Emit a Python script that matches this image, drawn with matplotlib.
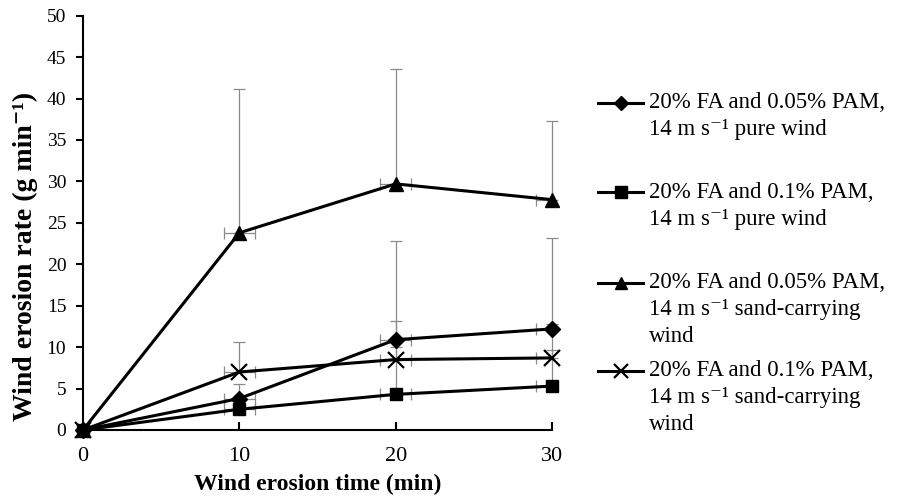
import matplotlib
matplotlib.use("Agg")
from matplotlib import pyplot as plt
from matplotlib.lines import Line2D
import numpy as np

plt.rcParams.update({
    "font.family": ["Liberation Serif", "DejaVu Serif"],
    "font.size": 14,
})

# data
time_min = [0, 10, 20, 30]
x_err = [1, 1, 1, 1]

labels = [
    ["20% FA and 0.05% PAM,", "14 m s\u207b\u00b9 pure wind"],
    ["20% FA and 0.1% PAM,", "14 m s\u207b\u00b9 pure wind"],
    ["20% FA and 0.05% PAM,", "14 m s\u207b\u00b9 sand-carrying", "wind"],
    ["20% FA and 0.1% PAM,", "14 m s\u207b\u00b9 sand-carrying", "wind"],
]
fa_005_pure = [0, 3.8, 10.9, 12.2]
fa_005_pure_err = [0, 1.7, 11.9, 11.0]
fa_01_pure = [0, 2.5, 4.3, 5.3]
fa_01_pure_err = [0, 0.8, 8.8, 7.5]
fa_005_sand = [0, 23.8, 29.7, 27.8]
fa_005_sand_err = [0, 17.3, 13.9, 9.5]
fa_01_sand = [0, 7.0, 8.5, 8.7]
fa_01_sand_err = [0, 3.6, 1.5, 1.0]

series = [fa_005_pure, fa_01_pure, fa_005_sand, fa_01_sand]
errs = [fa_005_pure_err, fa_01_pure_err, fa_005_sand_err, fa_01_sand_err]
markers = ["D", "s", "^", "x"]
msizes = [8, 9, 10, 11]

W, H = 903, 496
fig = plt.figure(figsize=(W / 100, H / 100), dpi=100)
ax = fig.add_axes([83 / W, 1 - 430 / H, (552 - 83) / W, (430 - 15.7) / H])

err_kw = dict(fmt="none", ecolor="#8a8a8a", elinewidth=0.9, capsize=4.5,
              capthick=0.9, zorder=2)
for y, e in zip(series, errs):
    # upper-only y error bars, not clipped
    ax.errorbar(time_min, y, yerr=[np.zeros(len(e)), e], clip_on=False, **err_kw)
    # +-1 min x error bars, clipped to the axes
    ax.errorbar(time_min, y, xerr=x_err, **err_kw)

for y, m, ms in zip(series, markers, msizes):
    ax.plot(time_min, y, color="black", lw=2.2, marker=m, ms=ms,
            mew=1.6 if m == "x" else 1, mfc="black", mec="black",
            clip_on=False, zorder=3)

ax.set_xlim(0, 30)
ax.set_ylim(0, 50)
ax.set_xticks([0, 10, 20, 30])
ax.set_yticks(np.arange(0, 51, 5))
ax.spines[["top", "right"]].set_visible(False)
ax.spines[["left", "bottom"]].set_linewidth(1.5)
ax.tick_params(axis="y", direction="out", length=5, width=1.5, labelsize=14, pad=7)
ax.tick_params(axis="x", direction="in", length=6, width=1.5, labelsize=16, pad=12)

ax.set_xlabel("Wind erosion time (min)", fontsize=17, fontweight="bold", labelpad=6)
fig.text(25 / W, 1 - 256 / H, "Wind erosion rate (g min\u207b\u00b9)", rotation=90,
         fontsize=20, fontweight="bold", ha="center", va="center")

# legend drawn by hand to keep the spacing of the original
first_line_y = [103, 192, 283, 371]
for lab, m, ms, yp in zip(labels, markers, msizes, first_line_y):
    yf = 1 - yp / H
    fig.add_artist(Line2D([598 / W, 643 / W], [yf, yf], color="black", lw=2.2,
                          transform=fig.transFigure))
    fig.add_artist(Line2D([621 / W], [yf], color="black", marker=m, ms=ms - 1,
                          mew=1.6 if m == "x" else 1, transform=fig.transFigure))
    for k, line in enumerate(lab):
        fig.text(649 / W, 1 - (yp + 27 * k) / H, line, fontsize=16.5, va="center")

fig.savefig("out.png", dpi=100)
